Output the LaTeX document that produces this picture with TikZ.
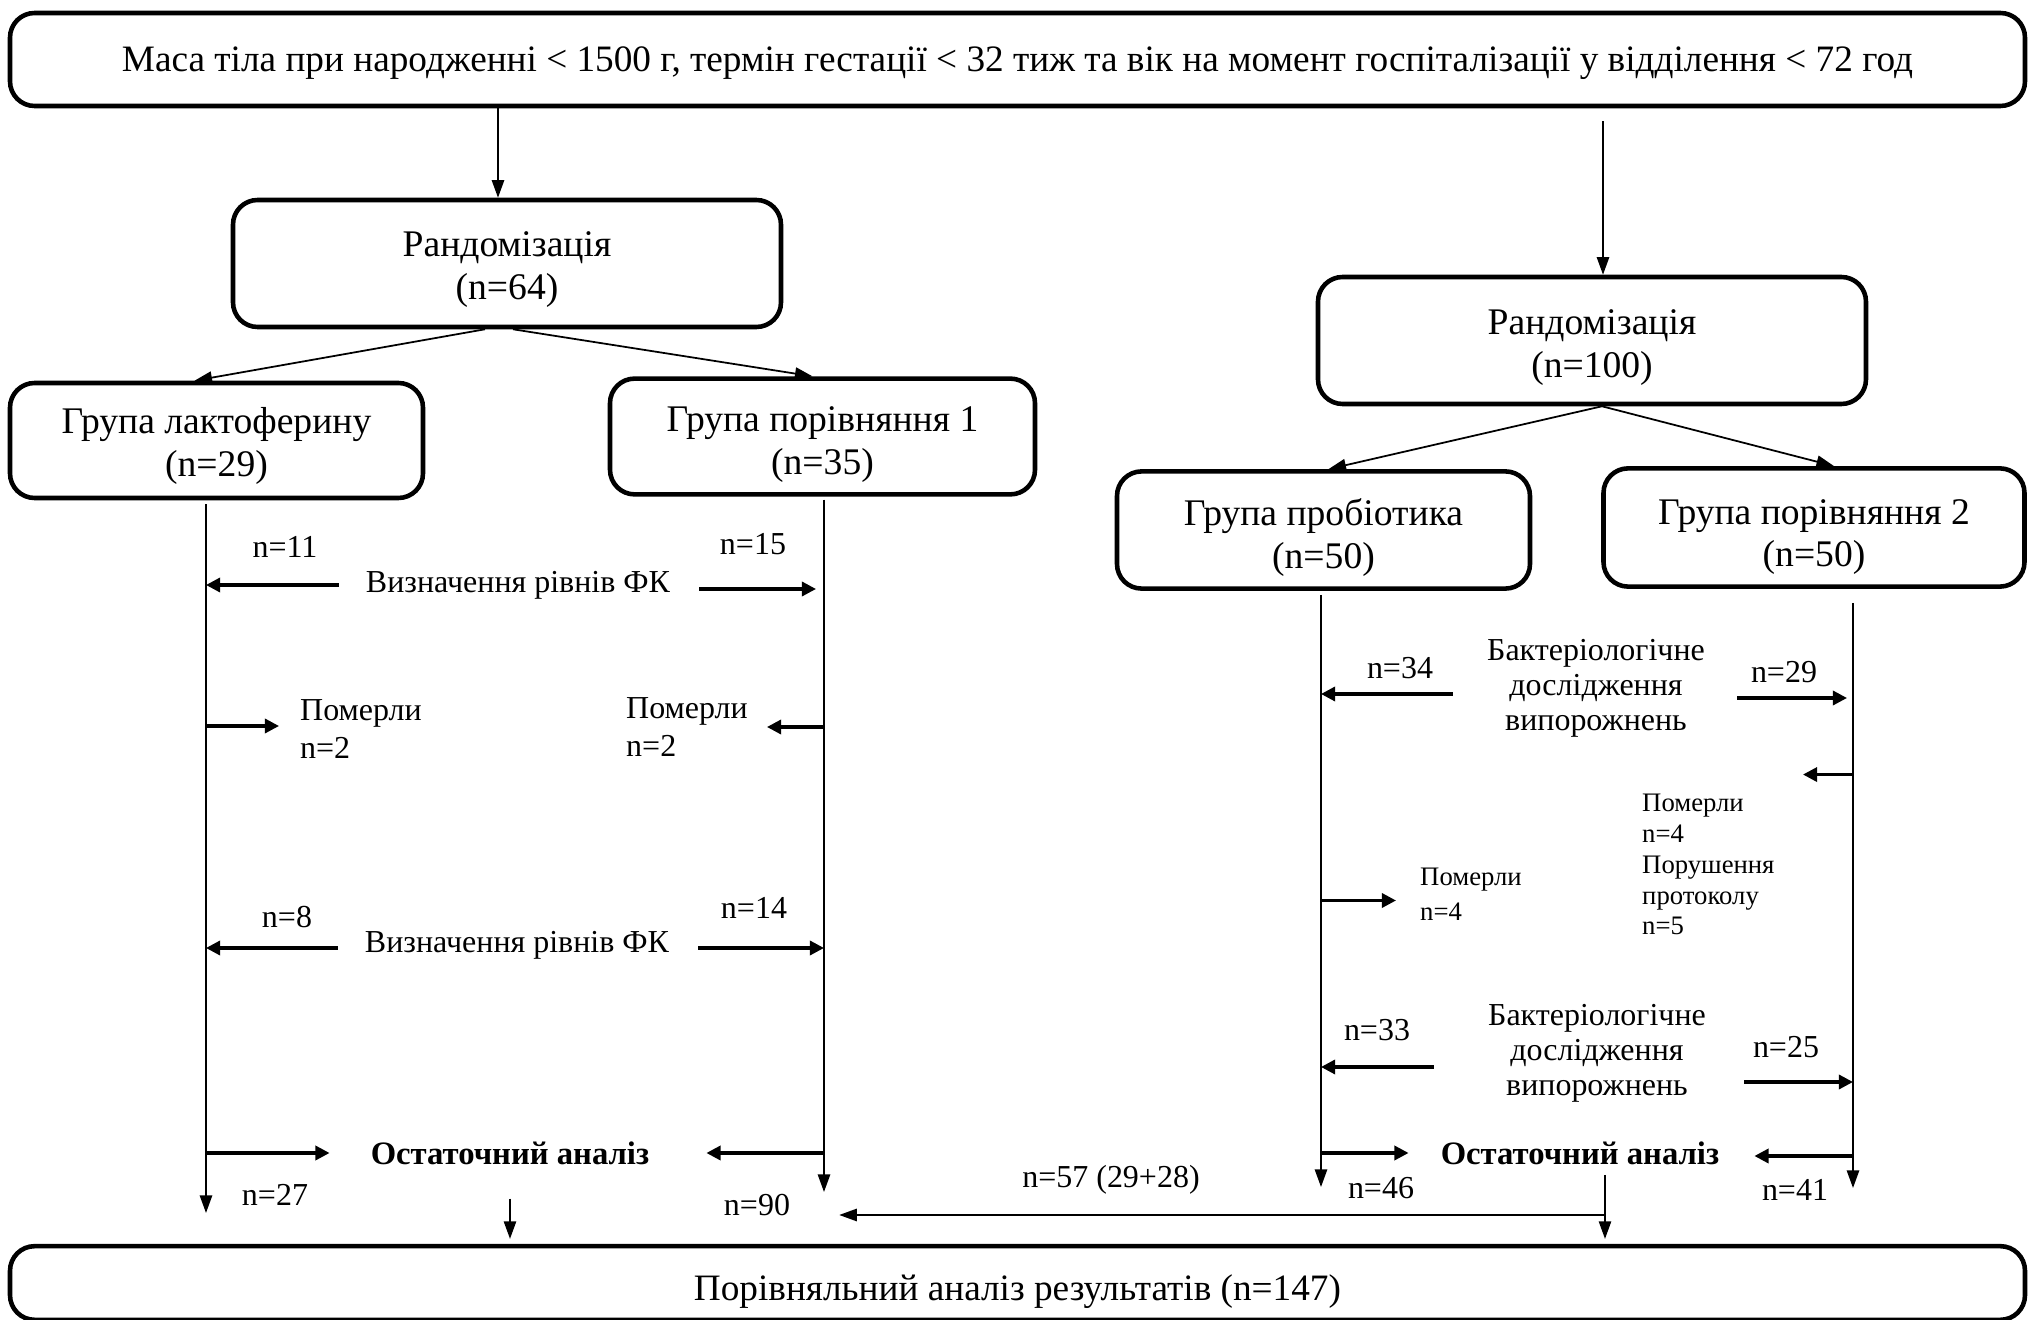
\documentclass[tikz,border=0pt]{standalone}
\usepackage{fontspec}
\setmainfont{Liberation Serif}
\usepackage{tikz}
\usetikzlibrary{arrows.meta, positioning, calc}

\newcommand{\boxlift}[1]{\rule{0pt}{#1}}

\begin{document}
\begin{tikzpicture}[x=1cm, y=-1cm,
  box/.style={draw, line width=1.3pt, rounded corners=7pt, align=center,
              font=\fontsize{10.7}{12.2}\selectfont},
  arr/.style={-{Triangle[length=5pt, width=3.5pt]}, line width=0.5pt},
  side/.style={-{Triangle[length=4pt, width=4pt]}, line width=0.9pt},
  lbl/.style={font=\fontsize{9.1}{10.6}\selectfont, inner sep=1pt},
  note/.style={font=\fontsize{7.6}{8.8}\selectfont, align=left, inner sep=1pt}
]
\useasboundingbox (0,0) rectangle (20.28,13.20);

% boxes
\node[box, minimum width=20.15cm, minimum height=0.93cm, font=\fontsize{10.6}{12}\selectfont] (top) at (10.175,0.595)
  {\boxlift{9pt}Маса тіла при народженні < 1500 г, термін гестації < 32 тиж та вік на момент госпіталізації у відділення < 72 год};
\node[box, minimum width=5.48cm, minimum height=1.27cm] (rand1) at (5.07,2.635) {\boxlift{10.7pt}Рандомізація\\(n=64)};
\node[box, minimum width=5.48cm, minimum height=1.27cm] (rand2) at (15.92,3.405) {\boxlift{11.1pt}Рандомізація\\(n=100)};
\node[box, minimum width=4.13cm, minimum height=1.15cm] (lact) at (2.165,4.405) {\boxlift{10.3pt}Група лактоферину\\(n=29)};
\node[box, minimum width=4.25cm, minimum height=1.15cm] (comp1) at (8.225,4.365) {\boxlift{11.8pt}Група порівняння 1\\(n=35)};
\node[box, minimum width=4.13cm, minimum height=1.16cm] (prob) at (13.235,5.30) {\boxlift{12.2pt}Група пробіотика\\(n=50)};
\node[box, minimum width=4.21cm, minimum height=1.17cm] (comp2) at (18.14,5.275) {\boxlift{12.5pt}Група порівняння 2\\(n=50)};
\node[box, minimum width=20.15cm, minimum height=0.69cm, font=\fontsize{10.6}{12}\selectfont] (final) at (10.175,12.83)
  {\boxlift{12pt}Порівняльний аналіз результатів (n=147)};

\draw[arr] ([xshift=-0.09cm]top.south -| rand1.north) -- ([xshift=-0.09cm]rand1.north);
\draw[arr, shorten <=0.13cm] ([xshift=0.11cm]top.south -| rand2.north) -- ([xshift=0.11cm]rand2.north);
\draw[arr] ([xshift=-0.22cm]rand1.south) -- ([xshift=-0.22cm]lact.north);
\draw[arr] ([xshift=0.06cm]rand1.south) -- ([xshift=-0.1cm]comp1.north);
\draw[arr] ([xshift=0.1cm]rand2.south) -- ([xshift=0.05cm]prob.north);
\draw[arr] ([xshift=0.1cm]rand2.south) -- ([xshift=0.2cm]comp2.north);

% group lines
\coordinate (lactB) at (2.06,12.13);
\coordinate (comp1B) at (8.24,11.92);
\coordinate (probB) at (13.21,11.87);
\coordinate (comp2B) at (18.53,11.88);
\draw[arr, shorten <=0.04cm] (lact.south -| lactB) -- (lactB);
\draw[arr, shorten <=0.03cm] (comp1.south -| comp1B) -- (comp1B);
\draw[arr, shorten <=0.04cm] (prob.south -| probB) -- (probB);
\draw[arr, shorten <=0.14cm] (comp2.south -| comp2B) -- (comp2B);

% lactoferrin / comparison 1
\node[lbl] (n11) at (2.85,5.47) {n=11};
\node[lbl] (n15) at (7.53,5.44) {n=15};
\node[lbl] (fk1) at (5.18,5.85) {Визначення рівнів ФК};
\draw[side] ([xshift=-0.23cm]fk1.west) -- (fk1.west -| lactB);
\draw[side, shorten >=0.08cm] ([xshift=0.25cm,yshift=-0.04cm]fk1.east) -- ([yshift=-0.04cm]fk1.east -| comp1B);

\node[lbl, align=left, anchor=west] (dead1) at (2.96,7.29) {Померли\\n=2};
\node[lbl, align=left, anchor=west] (dead2) at (6.22,7.27) {Померли\\n=2};
\draw[side] ([yshift=0.03cm]dead1.west -| lactB) -- ([xshift=-0.17cm,yshift=0.03cm]dead1.west);
\draw[side] (dead2.east -| comp1B) -- ([xshift=0.15cm]dead2.east);

\node[lbl] (n8) at (2.87,9.17) {n=8};
\node[lbl] (n14) at (7.54,9.08) {n=14};
\node[lbl] (fk2) at (5.17,9.45) {Визначення рівнів ФК};
\draw[side] ([xshift=-0.23cm,yshift=-0.03cm]fk2.west) -- ([yshift=-0.03cm]fk2.west -| lactB);
\draw[side] ([xshift=0.25cm,yshift=-0.03cm]fk2.east) -- ([yshift=-0.03cm]fk2.east -| comp1B);

\node[lbl, font=\fontsize{9.3}{10.8}\selectfont\bfseries] (fin1) at (5.10,11.53) {Остаточний аналіз};
\draw[side] (fin1.west -| lactB) -- ([xshift=-0.37cm]fin1.west);
\draw[side] (fin1.east -| comp1B) -- ([xshift=0.53cm]fin1.east);
\node[lbl] (n27) at (2.75,11.95) {n=27};
\node[lbl] (n90) at (7.57,12.05) {n=90};
\draw[arr, shorten <=0.3cm, shorten >=0.05cm] (fin1.south) -- (fin1.south |- final.north);

% probiotic / comparison 2
\node[lbl] (n34) at (14.00,6.68) {n=34};
\node[lbl] (n29) at (17.84,6.72) {n=29};
\node[lbl, align=center, font=\fontsize{9.1}{10}\selectfont] (bact1) at (15.96,6.88) {Бактеріологічне\\дослідження\\випорожнень};
\draw[side] ([xshift=-0.3cm,yshift=-0.06cm]bact1.west) -- ([yshift=-0.06cm]bact1.west -| probB);
\draw[side, shorten >=0.06cm] ([xshift=0.28cm,yshift=-0.1cm]bact1.east) -- ([yshift=-0.1cm]bact1.east -| comp2B);

\node[note, anchor=west] (drop2) at (16.38,8.645) {Померли\\n=4\\Порушення\\протоколу\\n=5};
\draw[side] ([yshift=0.15cm]drop2.north -| comp2B) -- ++(-0.5,0);

\node[note, anchor=west, font=\fontsize{7.6}{10}\selectfont] (dead3) at (14.16,8.945) {Померли\\n=4};
\draw[side] ([yshift=-0.06cm]dead3.west -| probB) -- ([xshift=-0.2cm,yshift=-0.06cm]dead3.west);

\node[lbl] (n33) at (13.77,10.30) {n=33};
\node[lbl] (n25) at (17.86,10.47) {n=25};
\node[lbl, align=center, font=\fontsize{9.1}{10}\selectfont] (bact2) at (15.97,10.53) {Бактеріологічне\\дослідження\\випорожнень};
\draw[side] ([xshift=-0.5cm,yshift=-0.14cm]bact2.west) -- ([yshift=-0.14cm]bact2.west -| probB);
\draw[side] ([xshift=0.34cm,yshift=-0.29cm]bact2.east) -- ([yshift=-0.29cm]bact2.east -| comp2B);

\node[lbl, font=\fontsize{9.3}{10.8}\selectfont\bfseries] (fin2) at (15.80,11.53) {Остаточний аналіз};
\draw[side] (fin2.west -| probB) -- ([xshift=-0.28cm]fin2.west);
\draw[side] ([yshift=-0.03cm]fin2.east -| comp2B) -- ([xshift=0.31cm,yshift=-0.03cm]fin2.east);
\node[lbl] (n46) at (13.81,11.88) {n=46};
\node[lbl] (n41) at (17.95,11.90) {n=41};

% merge into final analysis
\node[lbl] (n57) at (11.11,11.80) {n=57 (29+28)};
\coordinate (drop) at (16.05,11.75);
\coordinate (merge) at (16.05,12.15);
\coordinate (to90) at ($(n90.east)+(0.45,0)$);
\draw[arr, shorten >=0.05cm] (drop) -- (drop |- final.north);
\draw[arr] (merge) -- (merge -| to90);
\end{tikzpicture}
\end{document}
